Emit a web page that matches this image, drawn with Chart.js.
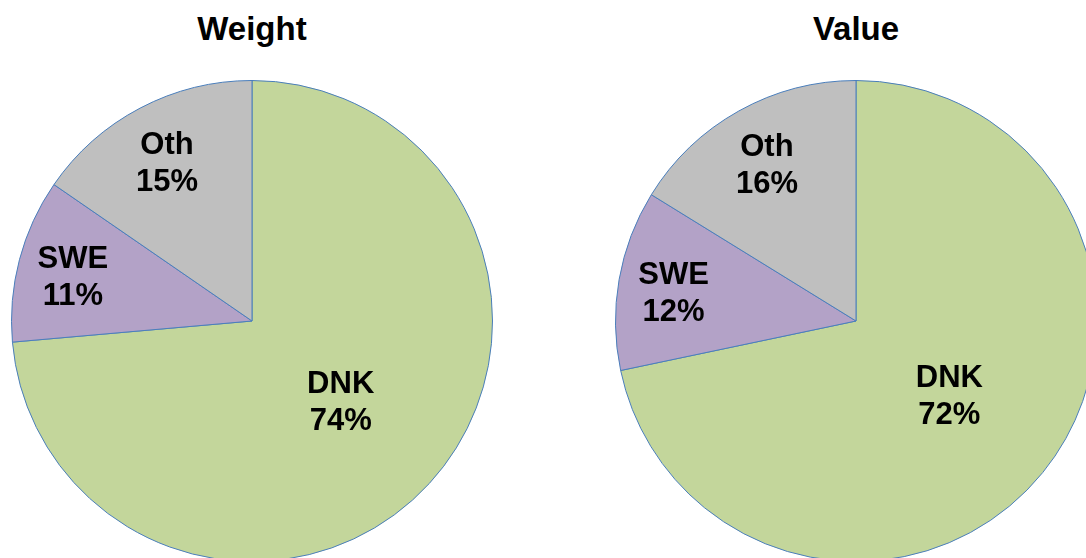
<!DOCTYPE html>
<html>
<head>
<meta charset="utf-8">
<script src="https://cdn.jsdelivr.net/npm/chart.js@4/dist/chart.umd.min.js"></script>
<style>
  html, body { margin: 0; padding: 0; width: 1086px; height: 558px; overflow: hidden; background: #fff; }
  .title { position: absolute; top: 12px; width: 300px; text-align: center; font: bold 33px "Liberation Sans", Arial, sans-serif; line-height: 33px; color: #000; }
  .pie { position: absolute; top: 80px; width: 482px; height: 482px; }
</style>
</head>
<body>
<div class="title" id="t_weight" style="left:102px"></div>
<div class="title" id="t_value" style="left:706px"></div>
<div class="pie" style="left:11px"><canvas id="chart_weight"></canvas></div>
<div class="pie" style="left:615px"><canvas id="chart_value"></canvas></div>
<script>
const categories = ['DNK', 'SWE', 'Oth'];
// shares; labels show them rounded
const weightShares = [73.6, 11.0, 15.4];
const valueShares = [71.7, 12.1, 16.2];
const chartTitles = ['Weight', 'Value'];

const sliceColors = ['#C3D69B', '#B3A2C7', '#BFBFBF'];
// how far out from the centre each label sits (fraction of radius)
const labelRadius = [0.5, 0.77, 0.76];

document.getElementById('t_weight').textContent = chartTitles[0];
document.getElementById('t_value').textContent = chartTitles[1];

const sliceLabels = {
    id: 'sliceLabels',
    afterDatasetsDraw(chart) {
        const ctx = chart.ctx;
        const meta = chart.getDatasetMeta(0);
        const values = chart.data.datasets[0].data;
        ctx.save();
        ctx.font = 'bold 31px "Liberation Sans", Arial, sans-serif';
        ctx.fillStyle = '#000';
        ctx.textAlign = 'center';
        ctx.textBaseline = 'middle';
        meta.data.forEach((arc, i) => {
            const p = arc.getProps(['x', 'y', 'startAngle', 'endAngle', 'outerRadius'], true);
            const mid = (p.startAngle + p.endAngle) / 2;
            const r = p.outerRadius * labelRadius[i];
            const cx = p.x + Math.cos(mid) * r;
            const cy = p.y + Math.sin(mid) * r + (i > 0 ? 4 : 0);
            ctx.fillText(chart.data.labels[i], cx, cy - 18);
            ctx.fillText(Math.round(values[i]) + '%', cx, cy + 19);
        });
        ctx.restore();
    }
};

function makePie(id, shares) {
    new Chart(document.getElementById(id), {
        type: 'pie',
        data: {
            labels: categories,
            datasets: [{
                data: shares,
                backgroundColor: sliceColors,
                borderColor: '#4A7EBB',
                borderWidth: 1
            }]
        },
        options: {
            responsive: true,
            maintainAspectRatio: false,
            animation: false,
            layout: { padding: 0 },
            plugins: {
                legend: { display: false },
                tooltip: { enabled: false },
                title: { display: false }
            }
        },
        plugins: [sliceLabels]
    });
}

makePie('chart_weight', weightShares);
makePie('chart_value', valueShares);
</script>
</body>
</html>
